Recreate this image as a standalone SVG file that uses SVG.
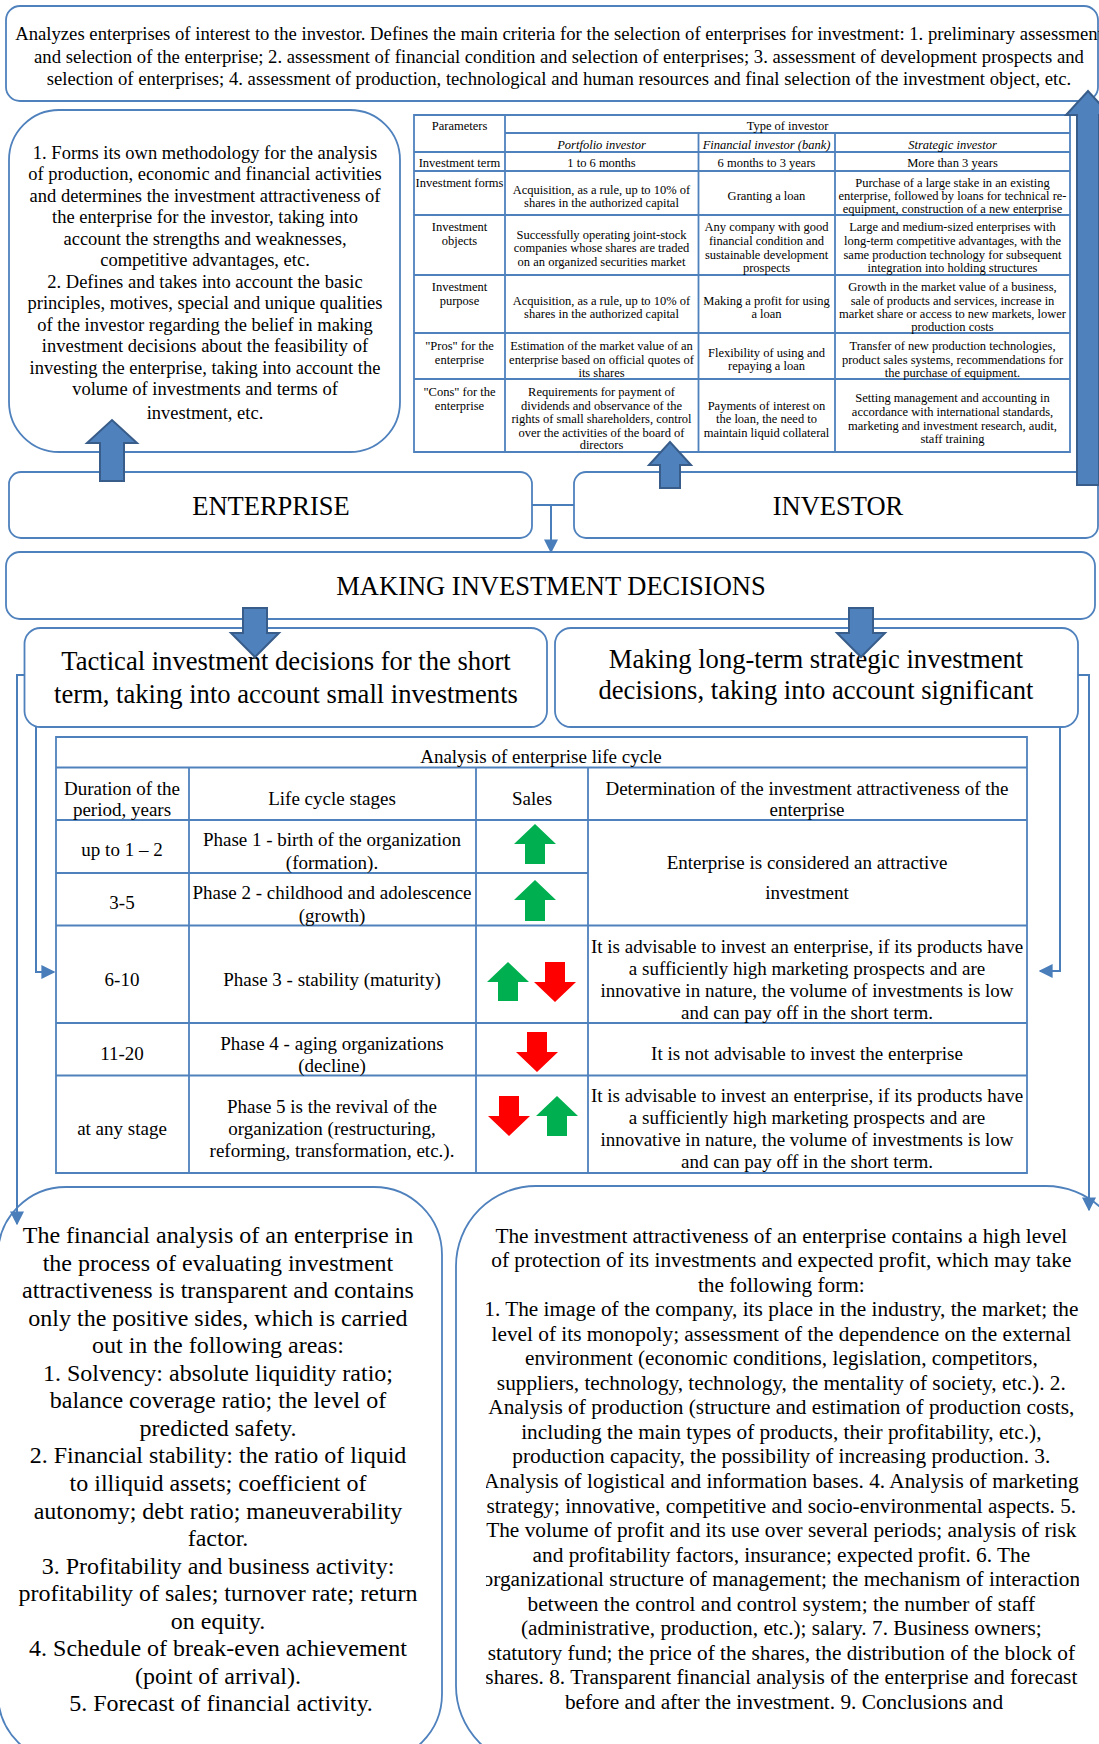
<svg xmlns="http://www.w3.org/2000/svg" width="1099" height="1744" viewBox="0 0 1099 1744">
<style>
.bx{fill:#fff;stroke:#4F81BD;stroke-width:1.8}
.tl{fill:none;stroke:#4F81BD;stroke-width:1.8}
.t{font-family:"Liberation Serif","Times New Roman",serif;fill:#000;text-anchor:middle}
.f19{font-size:19px}.f187{font-size:18.7px}.f18{font-size:18.5px}.f12{font-size:12.5px}.f26{font-size:26.5px}.f266{font-size:26.6px}.f24{font-size:24px}.f21{font-size:21.3px}
.it{font-style:italic}
.blk{fill:#4F81BD;stroke:#385D8A;stroke-width:2}
.con{fill:none;stroke:#4A7EBB;stroke-width:2}
.gr{fill:#00B050}.rd{fill:#FF0000}
</style>
<defs>
<marker id="ah" viewBox="0 0 10 10" refX="9" refY="5" markerWidth="14" markerHeight="14" markerUnits="userSpaceOnUse" orient="auto"><path d="M0,0 L10,5 L0,10 z" fill="#4A7EBB"/></marker>
<clipPath id="clipL"><rect x="27" y="110" width="357" height="340"/></clipPath>
<clipPath id="clipR"><rect x="486" y="1190" width="593" height="540"/></clipPath>
</defs>
<rect width="1099" height="1744" fill="#fff"/>

<g id="top-box">
<rect class="bx" x="6" y="6" width="1092" height="95" rx="14"/>
<text class="t f187" x="559" y="40">Analyzes enterprises of interest to the investor. Defines the main criteria for the selection of enterprises for investment: 1. preliminary assessment</text>
<text class="t f187" x="559" y="63">and selection of the enterprise; 2. assessment of financial condition and selection of enterprises; 3. assessment of development prospects and</text>
<text class="t f187" x="559" y="85">selection of enterprises; 4. assessment of production, technological and human resources and final selection of the investment object, etc.</text>
</g>

<g id="enterprise-desc">
<rect class="bx" x="9" y="110" width="391" height="342" rx="50"/>
<g clip-path="url(#clipL)">
<text class="t f18" x="205" y="158.5">1. Forms its own methodology for the analysis</text>
<text class="t f18" x="205" y="180">of production, economic and financial activities</text>
<text class="t f18" x="205" y="201.5">and determines the investment attractiveness of</text>
<text class="t f18" x="205" y="223">the enterprise for the investor, taking into</text>
<text class="t f18" x="205" y="244.5">account the strengths and weaknesses,</text>
<text class="t f18" x="205" y="266">competitive advantages, etc.</text>
<text class="t f18" x="205" y="287.5">2. Defines and takes into account the basic</text>
<text class="t f18" x="205" y="309">principles, motives, special and unique qualities</text>
<text class="t f18" x="205" y="330.5">of the investor regarding the belief in making</text>
<text class="t f18" x="205" y="352">investment decisions about the feasibility of</text>
<text class="t f18" x="205" y="373.5">investing the enterprise, taking into account the</text>
<text class="t f18" x="205" y="395">volume of investments and terms of</text>
<text class="t f18" x="205" y="418.5">investment, etc.</text>
</g>
</g>

<g id="investor-table">
<rect x="414" y="115" width="656" height="337" fill="#fff"/>
<path class="tl" d="M414,115H1070V452H414Z M505,133H1070 M414,152H1070 M414,171H1070 M414,215H1070 M414,275H1070 M414,333H1070 M414,379H1070 M505,115V452 M698.5,133V452 M835,133V452"/>
<g class="t f12">
<text x="459.5" y="130">Parameters</text>
<text x="787.5" y="130">Type of investor</text>
<text class="it" x="601.5" y="149">Portfolio investor</text>
<text class="it" x="766.5" y="149">Financial investor (bank)</text>
<text class="it" x="952.5" y="149">Strategic investor</text>
<text x="459.5" y="167">Investment term</text>
<text x="601.5" y="167">1 to 6 months</text>
<text x="766.5" y="167">6 months to 3 years</text>
<text x="952.5" y="167">More than 3 years</text>
<text x="459.5" y="187">Investment forms</text>
<text x="601.5" y="194">Acquisition, as a rule, up to 10% of</text>
<text x="601.5" y="207">shares in the authorized capital</text>
<text x="766.5" y="200">Granting a loan</text>
<text x="952.5" y="187">Purchase of a large stake in an existing</text>
<text x="952.5" y="200">enterprise, followed by loans for technical re-</text>
<text x="952.5" y="213">equipment, construction of a new enterprise</text>
<text x="459.5" y="231">Investment</text>
<text x="459.5" y="245">objects</text>
<text x="601.5" y="239">Successfully operating joint-stock</text>
<text x="601.5" y="252">companies whose shares are traded</text>
<text x="601.5" y="266">on an organized securities market</text>
<text x="766.5" y="231">Any company with good</text>
<text x="766.5" y="245">financial condition and</text>
<text x="766.5" y="259">sustainable development</text>
<text x="766.5" y="272">prospects</text>
<text x="952.5" y="231">Large and medium-sized enterprises with</text>
<text x="952.5" y="245">long-term competitive advantages, with the</text>
<text x="952.5" y="259">same production technology for subsequent</text>
<text x="952.5" y="272">integration into holding structures</text>
<text x="459.5" y="291">Investment</text>
<text x="459.5" y="305">purpose</text>
<text x="601.5" y="305">Acquisition, as a rule, up to 10% of</text>
<text x="601.5" y="318">shares in the authorized capital</text>
<text x="766.5" y="305">Making a profit for using</text>
<text x="766.5" y="318">a loan</text>
<text x="952.5" y="291">Growth in the market value of a business,</text>
<text x="952.5" y="305">sale of products and services, increase in</text>
<text x="952.5" y="318">market share or access to new markets, lower</text>
<text x="952.5" y="331">production costs</text>
<text x="459.5" y="350">"Pros" for the</text>
<text x="459.5" y="364">enterprise</text>
<text x="601.5" y="350">Estimation of the market value of an</text>
<text x="601.5" y="364">enterprise based on official quotes of</text>
<text x="601.5" y="377">its shares</text>
<text x="766.5" y="357">Flexibility of using and</text>
<text x="766.5" y="370">repaying a loan</text>
<text x="952.5" y="350">Transfer of new production technologies,</text>
<text x="952.5" y="364">product sales systems, recommendations for</text>
<text x="952.5" y="377">the purchase of equipment.</text>
<text x="459.5" y="396">"Cons" for the</text>
<text x="459.5" y="410">enterprise</text>
<text x="601.5" y="396">Requirements for payment of</text>
<text x="601.5" y="410">dividends and observance of the</text>
<text x="601.5" y="423">rights of small shareholders, control</text>
<text x="601.5" y="437">over the activities of the board of</text>
<text x="601.5" y="449">directors</text>
<text x="766.5" y="410">Payments of interest on</text>
<text x="766.5" y="423">the loan, the need to</text>
<text x="766.5" y="437">maintain liquid collateral</text>
<text x="952.5" y="402">Setting management and accounting in</text>
<text x="952.5" y="416">accordance with international standards,</text>
<text x="952.5" y="430">marketing and investment research, audit,</text>
<text x="952.5" y="443">staff training</text>
</g>
</g>

<g id="enterprise">
<rect class="bx" x="9" y="472" width="523" height="66" rx="12"/>
<text class="t f26" x="271" y="515">ENTERPRISE</text>
</g>
<g id="investor">
<rect class="bx" x="574" y="472" width="524" height="66" rx="12"/>
<text class="t f26" x="838" y="515">INVESTOR</text>
</g>
<g id="making">
<rect class="bx" x="6" y="552" width="1089" height="67" rx="14"/>
<text class="t f26" x="551" y="595">MAKING INVESTMENT DECISIONS</text>
</g>
<g id="tactical">
<rect class="bx" x="24.5" y="628" width="522.5" height="99" rx="16"/>
<text class="t f266" x="286" y="670">Tactical investment decisions for the short</text>
<text class="t f266" x="286" y="703">term, taking into account small investments</text>
</g>
<g id="strategic">
<rect class="bx" x="555" y="628" width="523" height="99" rx="16"/>
<text class="t f266" x="816" y="668">Making long-term strategic investment</text>
<text class="t f266" x="816" y="699">decisions, taking into account significant</text>
</g>

<g id="lifecycle-table">
<rect x="56" y="737" width="971" height="436" fill="#fff"/>
<path class="tl" d="M56,737H1027V1173H56Z M56,767.5H1027 M56,820H1027 M56,873H588 M56,925.5H1027 M56,1023H1027 M56,1075.5H1027 M189,767.5V1173 M476,767.5V1173 M588,767.5V1173"/>
<g class="t f19">
<text x="541" y="763">Analysis of enterprise life cycle</text>
<text x="122" y="795">Duration of the</text>
<text x="122" y="816">period, years</text>
<text x="332" y="805">Life cycle stages</text>
<text x="532" y="805">Sales</text>
<text x="807" y="795">Determination of the investment attractiveness of the</text>
<text x="807" y="816">enterprise</text>
<text x="122" y="856">up to 1 – 2</text>
<text x="332" y="846">Phase 1 - birth of the organization</text>
<text x="332" y="869">(formation).</text>
<text x="807" y="869">Enterprise is considered an attractive</text>
<text x="807" y="899">investment</text>
<text x="122" y="909">3-5</text>
<text x="332" y="899">Phase 2 - childhood and adolescence</text>
<text x="332" y="922">(growth)</text>
<text x="122" y="986">6-10</text>
<text x="332" y="986">Phase 3 - stability (maturity)</text>
<text x="807" y="953">It is advisable to invest an enterprise, if its products have</text>
<text x="807" y="975">a sufficiently high marketing prospects and are</text>
<text x="807" y="997">innovative in nature, the volume of investments is low</text>
<text x="807" y="1019">and can pay off in the short term.</text>
<text x="122" y="1060">11-20</text>
<text x="332" y="1050">Phase 4 - aging organizations</text>
<text x="332" y="1072">(decline)</text>
<text x="807" y="1060">It is not advisable to invest the enterprise</text>
<text x="122" y="1135">at any stage</text>
<text x="332" y="1113">Phase 5 is the revival of the</text>
<text x="332" y="1135">organization (restructuring,</text>
<text x="332" y="1157">reforming, transformation, etc.).</text>
<text x="807" y="1102">It is advisable to invest an enterprise, if its products have</text>
<text x="807" y="1124">a sufficiently high marketing prospects and are</text>
<text x="807" y="1146">innovative in nature, the volume of investments is low</text>
<text x="807" y="1168">and can pay off in the short term.</text>
</g>
<polygon class="gr" points="535,824 556,844 545,844 545,864 525,864 525,844 514,844"/>
<polygon class="gr" points="535,880 556,900 545,900 545,921 525,921 525,900 514,900"/>
<polygon class="gr" points="508,962 529,982 518,982 518,1001 498,1001 498,982 487,982"/>
<polygon class="rd" points="555,1002 576,982 565,982 565,962 545,962 545,982 534,982"/>
<polygon class="rd" points="537,1072 558,1052 547,1052 547,1032 527,1032 527,1052 516,1052"/>
<polygon class="rd" points="509,1136 530,1116 519,1116 519,1096 499,1096 499,1116 488,1116"/>
<polygon class="gr" points="557,1096 578,1116 567,1116 567,1136 547,1136 547,1116 536,1116"/>
</g>

<g id="financial-analysis">
<rect class="bx" x="-2" y="1187" width="444" height="575" rx="68"/>
<text class="t f24" x="221" y="1243">
<tspan x="221">The financial analysis of an enterprise in</tspan>
<tspan x="221" dy="27.55">the process of evaluating investment</tspan>
<tspan x="221" dy="27.55">attractiveness is transparent and contains</tspan>
<tspan x="221" dy="27.55">only the positive sides, which is carried</tspan>
<tspan x="221" dy="27.55">out in the following areas:</tspan>
<tspan x="221" dy="27.55">1. Solvency: absolute liquidity ratio;</tspan>
<tspan x="221" dy="27.55">balance coverage ratio; the level of</tspan>
<tspan x="221" dy="27.55">predicted safety.</tspan>
<tspan x="221" dy="27.55">2. Financial stability: the ratio of liquid</tspan>
<tspan x="221" dy="27.55">to illiquid assets; coefficient of</tspan>
<tspan x="221" dy="27.55">autonomy; debt ratio; maneuverability</tspan>
<tspan x="221" dy="27.55">factor.</tspan>
<tspan x="221" dy="27.55">3. Profitability and business activity:</tspan>
<tspan x="221" dy="27.55">profitability of sales; turnover rate; return</tspan>
<tspan x="221" dy="27.55">on equity.</tspan>
<tspan x="221" dy="27.55">4. Schedule of break-even achievement</tspan>
<tspan x="221" dy="27.55">(point of arrival).</tspan>
<tspan x="221" dy="27.55">5. Forecast of financial activity.</tspan>
</text>
</g>

<g id="attractiveness">
<rect class="bx" x="456" y="1186" width="670" height="580" rx="80"/>
<text class="t f21" x="784" y="1242.5" clip-path="url(#clipR)">
<tspan x="784">The investment attractiveness of an enterprise contains a high level</tspan>
<tspan x="784" dy="24.55">of protection of its investments and expected profit, which may take</tspan>
<tspan x="784" dy="24.55">the following form:</tspan>
<tspan x="784" dy="24.55">1. The image of the company, its place in the industry, the market; the</tspan>
<tspan x="784" dy="24.55">level of its monopoly; assessment of the dependence on the external</tspan>
<tspan x="784" dy="24.55">environment (economic conditions, legislation, competitors,</tspan>
<tspan x="784" dy="24.55">suppliers, technology, technology, the mentality of society, etc.). 2.</tspan>
<tspan x="784" dy="24.55">Analysis of production (structure and estimation of production costs,</tspan>
<tspan x="784" dy="24.55">including the main types of products, their profitability, etc.),</tspan>
<tspan x="784" dy="24.55">production capacity, the possibility of increasing production. 3.</tspan>
<tspan x="784" dy="24.55">Analysis of logistical and information bases. 4. Analysis of marketing</tspan>
<tspan x="784" dy="24.55">strategy; innovative, competitive and socio-environmental aspects. 5.</tspan>
<tspan x="784" dy="24.55">The volume of profit and its use over several periods; analysis of risk</tspan>
<tspan x="784" dy="24.55">and profitability factors, insurance; expected profit. 6. The</tspan>
<tspan x="784" dy="24.55">organizational structure of management; the mechanism of interaction</tspan>
<tspan x="784" dy="24.55">between the control and control system; the number of staff</tspan>
<tspan x="784" dy="24.55">(administrative, production, etc.); salary. 7. Business owners;</tspan>
<tspan x="784" dy="24.55">statutory fund; the price of the shares, the distribution of the block of</tspan>
<tspan x="784" dy="24.55">shares. 8. Transparent financial analysis of the enterprise and forecast</tspan>
<tspan x="784" dy="24.55">before and after the investment. 9. Conclusions and</tspan>
</text>
</g>

<g id="connectors">
<path class="con" d="M532,505H574"/>
<path class="con" d="M551,505V552" marker-end="url(#ah)"/>
<path class="con" d="M24.5,675H17V1224" marker-end="url(#ah)"/>
<path class="con" d="M1078,675H1089V1210" marker-end="url(#ah)"/>
<path class="con" d="M36,727V972H54" marker-end="url(#ah)"/>
<path class="con" d="M1060,727V971H1040" marker-end="url(#ah)"/>
<polygon class="blk" points="100,481 124,481 124,443 137,443 112,420 87,443 100,443"/>
<polygon class="blk" points="660,488 680,488 680,465 691,465 670,442 649,465 660,465"/>
<polygon class="blk" points="1077,485 1099,485 1099,115 1110,115 1088,91 1066,115 1077,115"/>
<polygon class="blk" points="243,608 267,608 267,633 279,633 255,657 231,633 243,633"/>
<polygon class="blk" points="849,608 873,608 873,633 885,633 861,657 837,633 849,633"/>
</g>
</svg>
